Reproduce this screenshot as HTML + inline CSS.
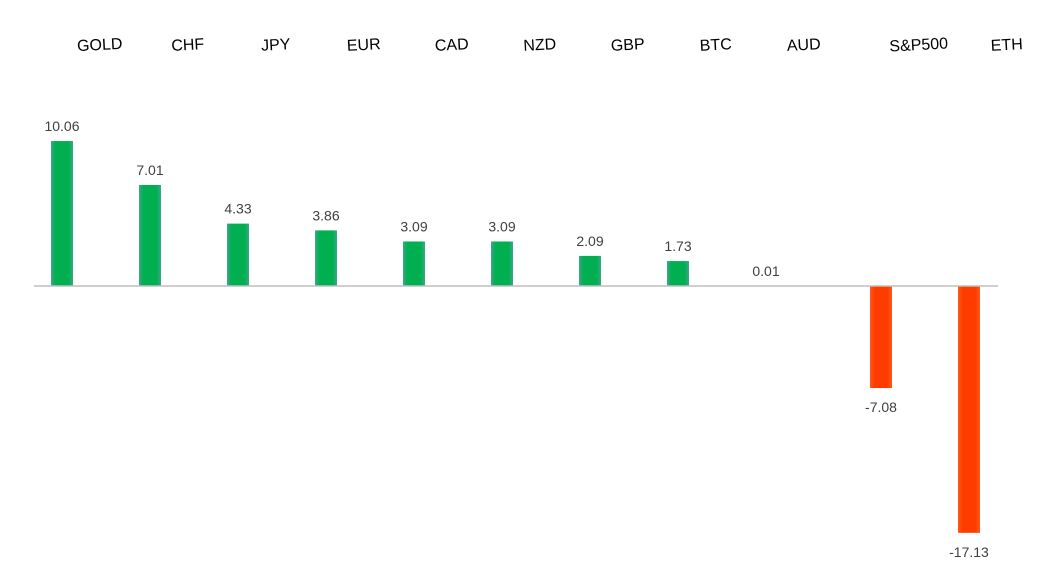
<!DOCTYPE html>
<html><head><meta charset="utf-8"><style>
html,body{margin:0;padding:0;background:#fff;}
svg{display:block;font-family:"Liberation Sans",sans-serif;}
</style></head><body>
<svg id="chart" width="1044" height="585">
<defs>
<linearGradient id="g" x1="0" x2="1"><stop offset="0" stop-color="#3aa88a"/><stop offset="0.2" stop-color="#00b050"/><stop offset="0.8" stop-color="#00b050"/><stop offset="1" stop-color="#3aa88a"/></linearGradient>
<linearGradient id="r" x1="0" x2="1"><stop offset="0" stop-color="#ff5a1a"/><stop offset="0.2" stop-color="#ff3c00"/><stop offset="0.8" stop-color="#ff3c00"/><stop offset="1" stop-color="#ff5a1a"/></linearGradient>
</defs>
</svg>
<script>
const categories = ["GOLD","CHF","JPY","EUR","CAD","NZD","GBP","BTC","AUD","S&P500","ETH"];
const values = [10.06,7.01,4.33,3.86,3.09,3.09,2.09,1.73,0.01,-7.08,-17.13];
const labels = ["10.06","7.01","4.33","3.86","3.09","3.09","2.09","1.73","0.01","-7.08","-17.13"];
const svg = document.getElementById('chart');
const NS = 'http://www.w3.org/2000/svg';
const baseY = 286, pxPerUnit = 14.41;
function y(v){ return baseY - v * pxPerUnit; }
function x(i){ return 62 + i * 88 + (i >= 9 ? 27 : 0); }
function mk(tag, attrs){ const e = document.createElementNS(NS, tag); for (const k in attrs) e.setAttribute(k, attrs[k]); svg.appendChild(e); return e; }
categories.forEach((c, i) => {
  const v = values[i];
  const top = Math.min(y(v), baseY), h = Math.abs(y(v) - baseY);
  const b = mk('rect', {x: x(i) - 11, y: top, width: 22, height: h, fill: v >= 0 ? 'url(#g)' : 'url(#r)'});
  
  
  const ly = v >= 0 ? y(v) - 10 : y(v) + 24;
  const t = mk('text', {x: x(i), y: ly, 'text-anchor': 'middle', 'font-size': 14, fill: '#404040'});
  t.textContent = labels[i];
  
  
  const cx = x(i) + 38, cy = 50;
  const ct = mk('text', {x: cx, y: cy, 'text-anchor': 'middle', 'font-size': 16, fill: '#000', transform: 'rotate(-3 ' + cx + ' ' + cy + ')'});
  ct.textContent = c;
  
  
});
const ax = mk('line', {x1: 34, x2: 998, y1: baseY, y2: baseY, stroke: '#bfbfbf', 'stroke-width': 1.5});


</script>
</body></html>
